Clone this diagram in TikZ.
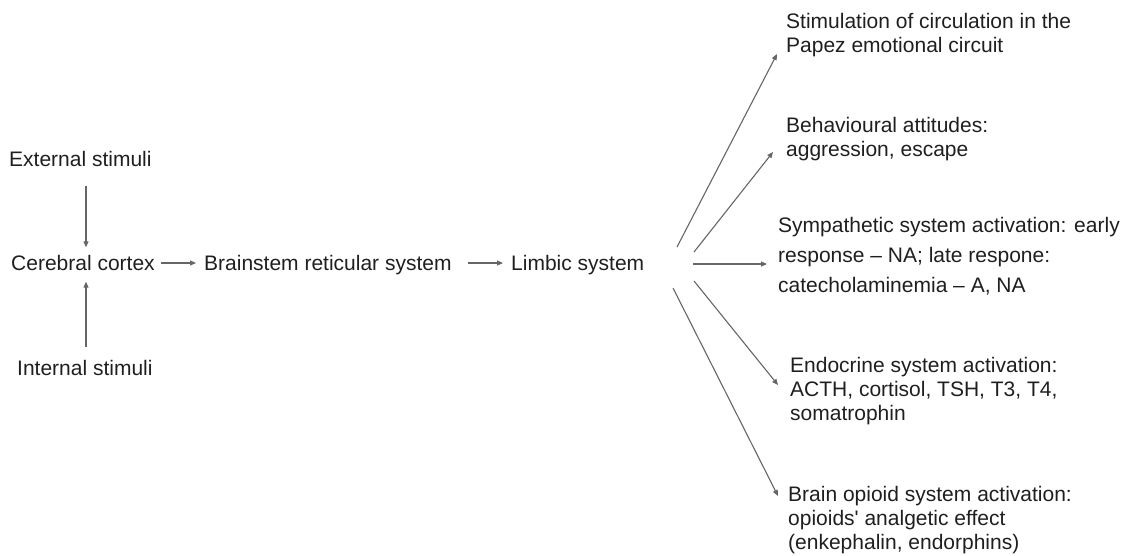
\documentclass[tikz,border=0pt]{standalone}
\usepackage{fontspec}
\setmainfont{Liberation Sans}
\usetikzlibrary{arrows.meta,calc}
\definecolor{txt}{HTML}{1F1F1F}
\definecolor{ln}{HTML}{666666}
\begin{document}
\begin{tikzpicture}[x=1pt,y=-1pt,
  lbl/.style={anchor=west,inner sep=0pt,text height=15pt,text depth=0pt,text=txt,font=\fontsize{21}{24}\selectfont},
  blk/.style={anchor=north west,inner sep=0pt,align=left,text=txt,font=\fontsize{21}{24}\selectfont},
  arr/.style={draw=ln,line width=1.1pt,-{Triangle[length=6pt,width=5pt]}}]
\useasboundingbox (0,0) rectangle (1126,555);
% left chain
\node[lbl] (ext) at (9,159) {External stimuli};
\node[lbl] (cc) at (11,263) {Cerebral cortex};
\node[lbl] (int) at (17,368) {Internal stimuli};
\node[lbl] (bs) at (204,263) {Brainstem reticular system};
\node[lbl] (ls) at (511,263) {Limbic system};
\coordinate (tx) at (86,0);
\draw[arr,shorten <=19pt,shorten >=8pt] (ext.south -| tx) -- (cc.north -| tx);
\draw[arr,shorten <=13pt,shorten >=11pt] (int.north -| tx) -- (cc.south -| tx);
\draw[arr,shorten <=6pt,shorten >=8pt] (cc.east) -- (cc.east -| bs.west);
\draw[arr,shorten <=16pt,shorten >=8pt] (bs.east) -- (bs.east -| ls.west);
% right targets
\node[blk] (stim) at (786,11.2) {\strut Stimulation of circulation in the\\Papez emotional circuit};
\node[blk] (beh) at (786,115.7) {\strut Behavioural attitudes:\\aggression, escape};
\node[blk,font=\fontsize{21}{30}\selectfont] (sym) at (778,211.5) {\strut Sympathetic system activation: early\\response – NA; late respone:\\catecholaminemia – A, NA};
\node[blk] (endo) at (790,355.7) {\strut Endocrine system activation:\\ACTH, cortisol, TSH, T3, T4,\\somatrophin};
\node[blk] (opi) at (788,484.7) {\strut Brain opioid system activation:\\opioids\textquotesingle{} analgetic effect\\(enkephalin, endorphins)};
% fan
\coordinate (s1) at (677,247);
\coordinate (s2) at (694,252);
\coordinate (s3) at (693,264);
\coordinate (s4) at (694,281);
\coordinate (s5) at (673,288);
\coordinate (e1) at (777,54);
\coordinate (e2) at (773,152);
\coordinate (e3) at (767,264);
\coordinate (e4) at (778,385);
\coordinate (e5) at (778,496);
\draw[arr] (s1) -- (e1);
\draw[arr] (s2) -- (e2);
\draw[arr] (s3) -- (e3);
\draw[arr] (s4) -- (e4);
\draw[arr] (s5) -- (e5);
\end{tikzpicture}
\end{document}
